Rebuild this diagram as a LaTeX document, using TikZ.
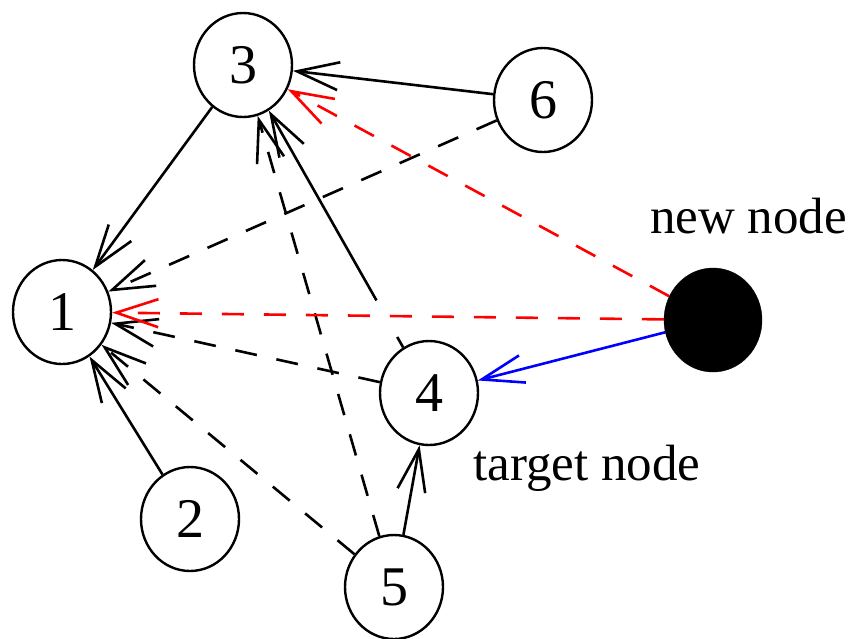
\documentclass[tikz,border=0pt]{standalone}
\usepackage{fontspec}
\setmainfont{Liberation Serif}
\usetikzlibrary{arrows.meta,shapes.geometric}
\begin{document}
\begin{tikzpicture}[x=1pt,y=-1pt,
  vert/.style={ellipse,draw,line width=2.4pt,inner sep=0pt,minimum width=98pt,minimum height=104pt,font=\fontsize{56}{60}\selectfont},
  newv/.style={ellipse,draw,fill=black,inner sep=0pt,minimum width=98pt,minimum height=104pt},
  arr/.style={line width=2.6pt,-{Straight Barb[length=42pt,width=28pt,line width=2.6pt]}},
  dsh/.style={arr,dash pattern=on 22pt off 20pt},
  lbl/.style={anchor=base west,inner sep=0pt,font=\fontsize{51}{56}\selectfont}]
\useasboundingbox (0,0) rectangle (851,638);
\node[vert] (n3) at (243,65) {3};
\node[vert] (n6) at (543,100) {6};
\node[vert] (n1) at (62,312) {1};
\node[vert] (n4) at (429,393) {4};
\node[vert] (n2) at (190,519) {2};
\node[vert] (n5) at (394,587) {5};
\node[newv] (nn) at (713,320) {};
\node[lbl] (tnew) at (650,233) {new node};
\node[lbl] (ttar) at (473,480) {target node};
% solid black
\draw[arr] (n6) -- (n3);
\draw[arr] (n3) -- (n1);
\draw[arr] (n2) -- (n1);
\draw[arr] (n5) -- (n4);
\draw[arr,dash pattern=on 12pt off 42pt on 600pt] (n4) -- (n3);
% dashed black
\draw[dsh] (n6) -- (n1);
\draw[dsh] (n4) -- (n1);
\draw[dsh] (n5) -- (n1);
\draw[dsh] (n5) -- (n3);
% red dashed
\draw[dsh,red] (nn) -- (n3);
\draw[dsh,red] (nn) -- (n1);
% blue
\draw[arr,blue] (nn) -- (n4);
\end{tikzpicture}
\end{document}
